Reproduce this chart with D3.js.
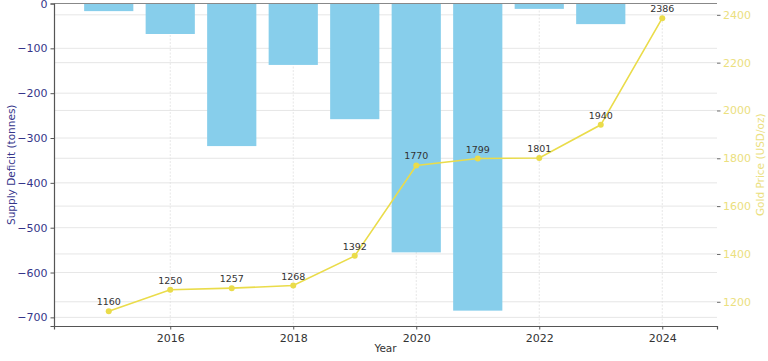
<!DOCTYPE html>
<html>
<head>
<meta charset="utf-8">
<script src="https://cdn.jsdelivr.net/npm/d3@7"></script>
<style>
  body { margin: 0; background: #fff; }
  svg, svg text { font-family: "DejaVu Sans", sans-serif; }
  svg { display: block; }
  .grid line { stroke: #e0e0e0; stroke-width: 0.8; }
  .grid.v line { stroke-dasharray: 2,1.5; }
</style>
</head>
<body>
<div id="chart"></div>
<script>
const years = [2015, 2016, 2017, 2018, 2019, 2020, 2021, 2022, 2023, 2024];
const deficit = [-17, -68, -318, -137, -258, -555, -685, -12, -46, 0];
const goldPrice = [1160, 1250, 1257, 1268, 1392, 1770, 1799, 1801, 1940, 2386];
const xTicks = [2016, 2018, 2020, 2022, 2024];
const leftTicks = [0, -100, -200, -300, -400, -500, -600, -700];
const rightTicks = [1200, 1400, 1600, 1800, 2000, 2200, 2400];

const width = 768, height = 361;
const margin = { top: 3.5, right: 51, bottom: 35, left: 54 };
const innerWidth = width - margin.left - margin.right;
const innerHeight = height - margin.top - margin.bottom;

const svg = d3.select("#chart")
    .append("svg")
    .attr("width", width)
    .attr("height", height);

const inner = svg.append("g")
    .attr("transform", `translate(${margin.left},${margin.top})`);

// scales
const xScale = d3.scaleLinear()
    .domain([2014.11, 2024.89])
    .range([0, innerWidth]);

const yLeft = d3.scaleLinear()
    .domain([-719.25, 0])
    .range([innerHeight, 0]);

const yRight = d3.scaleLinear()
    .domain([1098.7, 2447.3])
    .range([innerHeight, 0]);

// grid
inner.append("g").attr("class", "grid")
    .selectAll("line")
    .data(leftTicks)
    .join("line")
    .attr("x1", 0).attr("x2", innerWidth)
    .attr("y1", d => yLeft(d)).attr("y2", d => yLeft(d));

inner.append("g").attr("class", "grid")
    .selectAll("line")
    .data(rightTicks)
    .join("line")
    .attr("x1", 0).attr("x2", innerWidth)
    .attr("y1", d => yRight(d)).attr("y2", d => yRight(d));

inner.append("g").attr("class", "grid v")
    .selectAll("line")
    .data(xTicks)
    .join("line")
    .attr("x1", d => xScale(d)).attr("x2", d => xScale(d))
    .attr("y1", 0).attr("y2", innerHeight);

// bars
const barW = xScale(2015.8) - xScale(2015);
inner.selectAll("rect.bar")
    .data(years.map((y, i) => ({ year: y, v: deficit[i] })))
    .join("rect")
    .attr("class", "bar")
    .attr("x", d => xScale(d.year) - barW / 2)
    .attr("y", yLeft(0))
    .attr("width", barW)
    .attr("height", d => yLeft(d.v) - yLeft(0))
    .attr("fill", "#87ceeb");

// gold line
const pts = years.map((y, i) => ({ year: y, v: goldPrice[i] }));
const lineColor = "#eadc4a";

inner.append("path")
    .datum(pts)
    .attr("fill", "none")
    .attr("stroke", lineColor)
    .attr("stroke-width", 1.6)
    .attr("d", d3.line().x(d => xScale(d.year)).y(d => yRight(d.v)));

inner.selectAll("circle")
    .data(pts)
    .join("circle")
    .attr("cx", d => xScale(d.year))
    .attr("cy", d => yRight(d.v))
    .attr("r", 3)
    .attr("fill", lineColor);

inner.selectAll("text.val")
    .data(pts)
    .join("text")
    .attr("class", "val")
    .attr("x", d => xScale(d.year))
    .attr("y", d => yRight(d.v) - 6)
    .attr("text-anchor", "middle")
    .attr("font-size", "9.5px")
    .attr("fill", "#333")
    .text(d => d.v);

// top spine
inner.append("line")
    .attr("x1", 0).attr("x2", innerWidth)
    .attr("y1", 0).attr("y2", 0)
    .attr("stroke", "#888").attr("stroke-width", 1);

// x-axis
const xAxis = inner.append("g")
    .attr("transform", `translate(0,${innerHeight})`)
    .call(d3.axisBottom(xScale).tickValues(xTicks).tickFormat(d3.format("d")).tickSizeOuter(0).tickSize(3.5));
xAxis.attr("font-family", null);
xAxis.select(".domain").attr("stroke", "#555").attr("stroke-width", 1.2);
xAxis.selectAll(".tick line").attr("stroke", "#555");
xAxis.selectAll("text").attr("font-size", "11px").attr("fill", "#333").attr("dy", "0.9em");

// left axis
const leftColor = "#35358a";
const yAxisL = inner.append("g")
    .call(d3.axisLeft(yLeft).tickValues(leftTicks).tickSizeOuter(0).tickSize(3.5));
yAxisL.attr("font-family", null);
yAxisL.select(".domain").attr("stroke", "#555").attr("stroke-width", 1.2);
yAxisL.selectAll(".tick line").attr("stroke", "#555");
yAxisL.selectAll("text").attr("font-size", "11px").attr("fill", leftColor);

// right axis
const rightColor = "#ebe07e";
const yAxisR = inner.append("g")
    .attr("transform", `translate(${innerWidth},0)`)
    .call(d3.axisRight(yRight).tickValues(rightTicks).tickFormat(d3.format("d")).tickSizeOuter(0).tickSize(3.5).tickPadding(2.5));
yAxisR.attr("font-family", null);
yAxisR.select(".domain").remove();
yAxisR.selectAll(".tick line").attr("stroke", "#666");
yAxisR.selectAll("text").attr("font-size", "11px").attr("fill", rightColor);

// labels
svg.append("text")
    .attr("x", margin.left + xScale(2019.5))
    .attr("y", 352)
    .attr("text-anchor", "middle")
    .attr("font-size", "10.5px")
    .attr("fill", "#333")
    .text("Year");

svg.append("text")
    .attr("transform", "rotate(-90)")
    .attr("x", -(margin.top + innerHeight / 2))
    .attr("y", 15)
    .attr("text-anchor", "middle")
    .attr("font-size", "10.5px")
    .attr("fill", leftColor)
    .text("Supply Deficit (tonnes)");

svg.append("text")
    .attr("transform", "rotate(-90)")
    .attr("x", -(margin.top + innerHeight / 2))
    .attr("y", 764)
    .attr("text-anchor", "middle")
    .attr("font-size", "10.5px")
    .attr("fill", rightColor)
    .text("Gold Price (USD/oz)");
</script>
</body>
</html>
